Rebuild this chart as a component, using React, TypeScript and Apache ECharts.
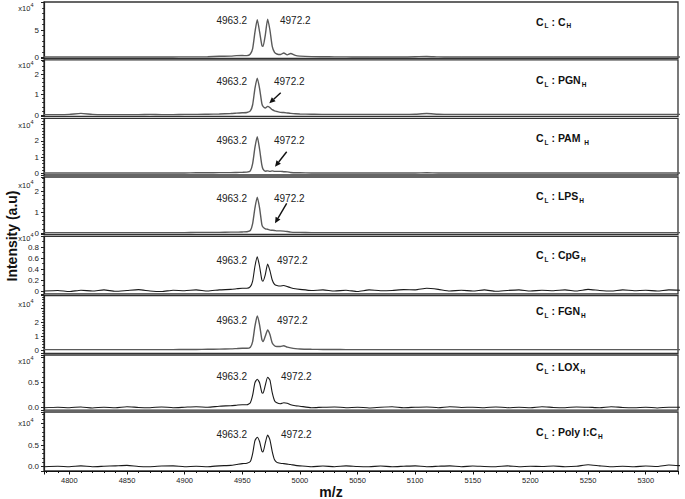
import React, { useEffect, useRef } from 'react';
import * as echarts from 'echarts';

// ---------- data ----------
const mz = [
  4778, 4790, 4800, 4810, 4820, 4830, 4840, 4850, 4860, 4870, 4880, 4890, 4900, 4910, 4920, 4930, 4940,
  4945, 4950, 4954, 4957, 4959, 4961, 4963, 4965, 4967, 4968, 4970, 4972, 4974, 4976, 4978, 4980, 4983, 4986, 4989, 4992, 4996,
  5000, 5010, 5020, 5030, 5040, 5050, 5060, 5070, 5080, 5090, 5100, 5110, 5120, 5130, 5140, 5150, 5160, 5170,
  5180, 5190, 5200, 5210, 5220, 5230, 5240, 5250, 5260, 5270, 5280, 5290, 5300, 5310, 5320, 5332,
];

// intensities in units of 10^4
const intensityCH = [
  0.05, 0.05, 0.06, 0.05, 0.05, 0.06, 0.05, 0.05, 0.06, 0.05, 0.05, 0.06, 0.08, 0.08, 0.1, 0.18, 0.22,
  0.3, 0.32, 0.3, 0.6, 1.6, 4.6, 6.9, 4.7, 2.2, 2.0, 4.1, 7.0, 5.0, 2.0, 0.9, 0.6, 0.5, 0.8, 0.45, 0.7, 0.35,
  0.22, 0.12, 0.1, 0.08, 0.07, 0.06, 0.05, 0.05, 0.06, 0.06, 0.1, 0.16, 0.08, 0.06, 0.05, 0.05, 0.05,
  0.05, 0.06, 0.05, 0.05, 0.08, 0.05, 0.05, 0.05, 0.06, 0.05, 0.05, 0.05, 0.05, 0.05, 0.05, 0.05, 0.05,
];
const intensityPGN = [
  0.02, 0.02, 0.03, 0.08, 0.03, 0.02, 0.02, 0.02, 0.02, 0.03, 0.02, 0.02, 0.03, 0.03, 0.04, 0.05, 0.07,
  0.09, 0.11, 0.12, 0.2, 0.5, 1.3, 1.8, 1.3, 0.55, 0.42, 0.34, 0.42, 0.36, 0.26, 0.2, 0.17, 0.13, 0.12, 0.1, 0.08, 0.06,
  0.05, 0.04, 0.03, 0.03, 0.03, 0.03, 0.03, 0.03, 0.03, 0.03, 0.04, 0.07, 0.04, 0.03, 0.03, 0.03, 0.03,
  0.03, 0.03, 0.03, 0.03, 0.03, 0.03, 0.03, 0.03, 0.03, 0.03, 0.03, 0.03, 0.03, 0.03, 0.03, 0.03, 0.03,
];
const intensityPAM = [
  0.02, 0.02, 0.02, 0.02, 0.02, 0.02, 0.02, 0.02, 0.02, 0.02, 0.02, 0.02, 0.02, 0.03, 0.03, 0.04, 0.04,
  0.05, 0.06, 0.07, 0.15, 0.6, 1.6, 2.26, 1.5, 0.5, 0.26, 0.13, 0.15, 0.12, 0.15, 0.12, 0.12, 0.12, 0.1, 0.09, 0.05, 0.03,
  0.03, 0.02, 0.02, 0.02, 0.02, 0.02, 0.02, 0.02, 0.02, 0.02, 0.02, 0.03, 0.02, 0.02, 0.02, 0.02, 0.02,
  0.02, 0.02, 0.02, 0.02, 0.02, 0.02, 0.02, 0.02, 0.02, 0.02, 0.02, 0.02, 0.02, 0.02, 0.02, 0.02, 0.02,
];
const intensityLPS = [
  0.02, 0.02, 0.02, 0.02, 0.02, 0.02, 0.02, 0.02, 0.02, 0.02, 0.02, 0.02, 0.02, 0.03, 0.03, 0.03, 0.04,
  0.04, 0.05, 0.06, 0.12, 0.45, 1.2, 1.71, 1.2, 0.4, 0.28, 0.2, 0.18, 0.14, 0.13, 0.12, 0.1, 0.1, 0.09, 0.07, 0.04, 0.03,
  0.03, 0.02, 0.02, 0.02, 0.02, 0.02, 0.02, 0.02, 0.02, 0.02, 0.02, 0.02, 0.02, 0.02, 0.02, 0.02, 0.02,
  0.02, 0.02, 0.02, 0.02, 0.02, 0.02, 0.02, 0.02, 0.02, 0.02, 0.02, 0.02, 0.02, 0.02, 0.02, 0.02, 0.02,
];
const intensityCpG = [
  0.0, 0.01, -0.01, 0.015, 0.0, 0.02, -0.005, 0.01, 0.025, 0.0, -0.01, 0.015, 0.005, 0.02, 0.0, 0.02, 0.03,
  0.04, 0.05, 0.05, 0.08, 0.18, 0.45, 0.62, 0.45, 0.2, 0.18, 0.3, 0.49, 0.37, 0.2, 0.12, 0.1, 0.09, 0.1, 0.08, 0.06, 0.04,
  0.03, 0.01, 0.02, 0.0, 0.015, -0.01, 0.02, 0.005, 0.01, 0.025, 0.02, 0.05, 0.03, 0.0, 0.015, 0.0, 0.02,
  -0.005, 0.01, 0.02, 0.0, 0.015, 0.005, 0.02, 0.0, 0.03, 0.01, 0.0, 0.02, 0.005, 0.015, 0.0, 0.02, 0.01,
];
const intensityFGN = [
  0.03, 0.03, 0.03, 0.03, 0.03, 0.03, 0.03, 0.03, 0.03, 0.03, 0.03, 0.03, 0.04, 0.04, 0.05, 0.06, 0.08,
  0.1, 0.12, 0.12, 0.2, 0.6, 1.7, 2.43, 1.8, 0.75, 0.6, 1.0, 1.43, 1.1, 0.5, 0.3, 0.25, 0.25, 0.3, 0.2, 0.15, 0.1,
  0.07, 0.05, 0.04, 0.04, 0.03, 0.03, 0.03, 0.03, 0.03, 0.03, 0.03, 0.03, 0.03, 0.03, 0.03, 0.03, 0.03,
  0.03, 0.03, 0.03, 0.03, 0.03, 0.03, 0.03, 0.03, 0.03, 0.03, 0.03, 0.03, 0.03, 0.03, 0.03, 0.03, 0.03,
];
const intensityLOX = [
  0.0, 0.01, 0.0, 0.015, -0.005, 0.01, 0.0, 0.02, 0.005, 0.0, 0.015, 0.0, 0.01, 0.02, 0.01, 0.03, 0.04,
  0.05, 0.06, 0.06, 0.1, 0.25, 0.5, 0.57, 0.5, 0.3, 0.29, 0.45, 0.61, 0.55, 0.3, 0.14, 0.1, 0.08, 0.1, 0.09, 0.06, 0.04,
  0.03, 0.0, 0.01, 0.015, 0.0, 0.01, -0.005, 0.01, 0.02, 0.0, 0.01, 0.015, 0.0, 0.02, 0.005, 0.01, 0.0,
  0.015, 0.0, 0.01, 0.0, 0.02, 0.005, 0.0, 0.015, 0.01, 0.0, 0.02, 0.005, 0.0, 0.01, -0.005, 0.01, 0.01,
];
const intensityPolyIC = [
  0.0, 0.01, 0.0, 0.02, 0.0, 0.01, 0.02, 0.03, 0.005, 0.0, 0.015, 0.02, 0.0, 0.01, 0.0, 0.02, 0.03,
  0.05, 0.07, 0.08, 0.12, 0.3, 0.6, 0.68, 0.58, 0.36, 0.34, 0.55, 0.73, 0.62, 0.35, 0.16, 0.1, 0.08, 0.07, 0.06, 0.05, 0.03,
  0.02, 0.0, 0.015, 0.0, 0.02, 0.005, 0.0, 0.015, 0.0, 0.01, 0.02, 0.0, 0.01, 0.02, 0.0, 0.015, 0.005,
  0.0, 0.02, 0.0, 0.01, 0.005, 0.015, 0.0, 0.01, 0.045, 0.02, 0.0, 0.01, 0.0, 0.015, 0.005, 0.04, 0.02,
];

const panelSeries = [
  intensityCH, intensityPGN, intensityPAM, intensityLPS,
  intensityCpG, intensityFGN, intensityLOX, intensityPolyIC,
];
const conditions = ['C', 'PGN', 'PAM ', 'LPS', 'CpG', 'FGN', 'LOX', 'Poly I:C'];
const peakLabels = ['4963.2', '4972.2'];
const yTickValues = [[0, 5], [0, 1, 2], [0, 1, 2], [0, 1, 2], [0, 0.2, 0.4, 0.6, 0.8], [0, 1, 2], [0, 0.5], [0, 0.5]];
const yTickTexts = [
  ['0', '5'], ['0', '1', '2'], ['0', '1', '2'], ['0', '1', '2'],
  ['0', '0.2', '0.4', '0.6', '0.8'], ['0', '1', '2'], ['0.0', '0.5'], ['0.0', '0.5'],
];
const xLabelStep = 50;
const yTitle = 'Intensity (a.u)';
const xTitle = 'm/z';

// ---------- layout ----------
const FONT = '"Liberation Sans", Arial, Helvetica, sans-serif';
const X_MIN = 4778;
const X_MAX = 5328;
const GRID_LEFT = 44;
const GRID_RIGHT = 7;
const panelTop = [2, 59.8, 118.3, 177, 236.3, 295.5, 355, 412];
const panelZero = [57.3, 115, 173.3, 233, 291, 350, 407.7, 466.7];
const panelBottom = [58.3, 116.3, 175, 234.5, 293.8, 353.3, 410.2, 471];
const pxPerUnit = [5.46, 20.5, 16.2, 21, 55, 14, 50, 43.4];
const ySplit = [2, 3, 3, 3, 5, 4, 2, 3];
const yMinorSplit = [5, 5, 5, 5, 2, 5, 5, 5];
const lineColor = ['#5a5a5a', '#5a5a5a', '#5a5a5a', '#5a5a5a', '#1a1a1a', '#5a5a5a', '#1a1a1a', '#1a1a1a'];
const lineWidth = [1.4, 1.4, 1.4, 1.4, 1.1, 1.4, 1.1, 1.1];
const clipLine = [true, true, true, true, false, true, false, false];
const x10Right = 33.5;
const x10Y = [7, 64.5, 124, 184, 237, 303, 360, 422];
const condLabelY = [22.5, 81, 139, 197, 256, 312, 368, 433];
const peakLabelY = [20, 81, 140, 198, 260, 320, 376, 434];
const peak2X = [280, 274, 274, 274, 277, 277, 281, 281];
const arrows = [
  [280.7, 92.7, 269.3, 103.3],
  [286.7, 151.7, 275, 166.7],
  [286.7, 203.3, 275, 223.3],
];

function arrowElements(a: number[]) {
  const [x1, y1, x2, y2] = a;
  const dx = x2 - x1, dy = y2 - y1;
  const len = Math.sqrt(dx * dx + dy * dy);
  const ux = dx / len, uy = dy / len;
  const hl = 6, hw = 2.8;
  const bx = x2 - ux * hl, by = y2 - uy * hl;
  const px = -uy, py = ux;
  return [
    { type: 'line', shape: { x1, y1, x2: bx, y2: by }, style: { stroke: '#111', lineWidth: 1.4 }, silent: true },
    {
      type: 'polygon',
      shape: { points: [[x2, y2], [bx + px * hw, by + py * hw], [bx - px * hw, by - py * hw]] },
      style: { fill: '#111' },
      silent: true,
    },
  ];
}

function buildOption() {
  const n = panelSeries.length;
  const grid: any[] = [];
  const xAxis: any[] = [];
  const yAxis: any[] = [];
  const series: any[] = [];
  const graphic: any[] = [];

  for (let i = 0; i < n; i++) {
    const yMin = -(panelBottom[i] - panelZero[i]) / pxPerUnit[i];
    const yMax = (panelZero[i] - panelTop[i]) / pxPerUnit[i];
    grid.push({
      left: GRID_LEFT,
      right: GRID_RIGHT,
      top: panelTop[i],
      height: panelBottom[i] - panelTop[i],
      show: true,
      borderColor: '#333',
      borderWidth: 1.3,
    });
    const isLast = i === n - 1;
    xAxis.push({
      type: 'value',
      gridIndex: i,
      min: X_MIN,
      max: X_MAX,
      splitNumber: 11,
      show: isLast,
      axisLine: { show: true, onZero: false, lineStyle: { color: '#111', width: 1.2 } },
      axisTick: { show: true, length: 3.5, lineStyle: { color: '#111' } },
      minorTick: { show: true, splitNumber: 5, length: 2, lineStyle: { color: '#111' } },
      splitLine: { show: false },
      minorSplitLine: { show: false },
      axisLabel: {
        fontSize: 7.5,
        color: '#222',
        fontFamily: FONT,
        margin: 5,
        formatter: (v: number) => (Math.abs(v % xLabelStep) < 1e-6 ? String(v) : ''),
      },
    });
    yAxis.push({
      type: 'value',
      gridIndex: i,
      min: yMin,
      max: yMax,
      splitNumber: ySplit[i],
      axisLine: { show: true, onZero: false, lineStyle: { color: '#222', width: 1.2 } },
      axisTick: { show: true, length: 3, lineStyle: { color: '#222' } },
      minorTick: { show: true, splitNumber: yMinorSplit[i], length: 1.8, lineStyle: { color: '#222' } },
      splitLine: { show: false },
      minorSplitLine: { show: false },
      axisLabel: {
        fontSize: 8,
        color: '#222',
        fontFamily: FONT,
        margin: 5,
        formatter: (v: number) => {
          const k = yTickValues[i].findIndex((t) => Math.abs(t - v) < 1e-6);
          return k >= 0 ? yTickTexts[i][k] : '';
        },
      },
    });
    series.push({
      type: 'line',
      xAxisIndex: i,
      yAxisIndex: i,
      data: mz.map((x, j) => [x, panelSeries[i][j]]),
      showSymbol: false,
      symbol: 'none',
      smooth: 0.2,
      clip: clipLine[i],
      silent: true,
      lineStyle: { color: lineColor[i], width: lineWidth[i] },
    });

    // x10^4 unit label
    graphic.push({
      type: 'text',
      x: x10Right,
      y: x10Y[i],
      silent: true,
      style: {
        text: '{a|x10}{b|4}',
        align: 'right',
        verticalAlign: 'middle',
        rich: {
          a: { fontSize: 7.5, fontFamily: FONT, fill: '#222', padding: [2, 0, 0, 0], verticalAlign: 'top' },
          b: { fontSize: 5.5, fontFamily: FONT, fill: '#222', verticalAlign: 'top' },
        },
      },
    });
    // condition label
    graphic.push({
      type: 'text',
      x: 536,
      y: condLabelY[i],
      silent: true,
      style: {
        text: `{b|C}{s|L}{b| : ${conditions[i]}}{s|H}`,
        align: 'left',
        verticalAlign: 'middle',
        rich: {
          b: { fontSize: 10.5, fontWeight: 'bold', fontFamily: FONT, fill: '#111', verticalAlign: 'top' },
          s: { fontSize: 6.5, fontWeight: 'bold', fontFamily: FONT, fill: '#111', padding: [6, 0, 0, 1], verticalAlign: 'top' },
        },
      },
    });
    // peak labels
    graphic.push({
      type: 'text',
      x: 247,
      y: peakLabelY[i],
      silent: true,
      style: { text: peakLabels[0], font: `10px ${FONT}`, fill: '#222', align: 'right', verticalAlign: 'middle' },
    });
    graphic.push({
      type: 'text',
      x: peak2X[i],
      y: peakLabelY[i],
      silent: true,
      style: { text: peakLabels[1], font: `10px ${FONT}`, fill: '#222', align: 'left', verticalAlign: 'middle' },
    });
  }

  arrows.forEach((a) => graphic.push(...arrowElements(a)));

  graphic.push({
    type: 'text',
    x: 12,
    y: 236,
    rotation: Math.PI / 2,
    silent: true,
    style: { text: yTitle, font: `bold 14px ${FONT}`, fill: '#111', align: 'center', verticalAlign: 'middle' },
  });
  graphic.push({
    type: 'text',
    x: 331,
    y: 492,
    silent: true,
    style: { text: xTitle, font: `bold 14px ${FONT}`, fill: '#111', align: 'center', verticalAlign: 'middle' },
  });

  return {
    animation: false,
    backgroundColor: '#ffffff',
    grid,
    xAxis,
    yAxis,
    series,
    graphic,
  };
}

export default function App() {
  const ref = useRef<HTMLDivElement>(null);
  useEffect(() => {
    const el = ref.current;
    if (!el) return;
    const chart = echarts.init(el, undefined, { renderer: 'svg' });
    chart.setOption(buildOption() as any);
    return () => chart.dispose();
  }, []);
  return (
    <div
      ref={ref}
      style={{ position: 'fixed', left: 0, top: 0, width: 685, height: 499, background: '#fff' }}
    />
  );
}
